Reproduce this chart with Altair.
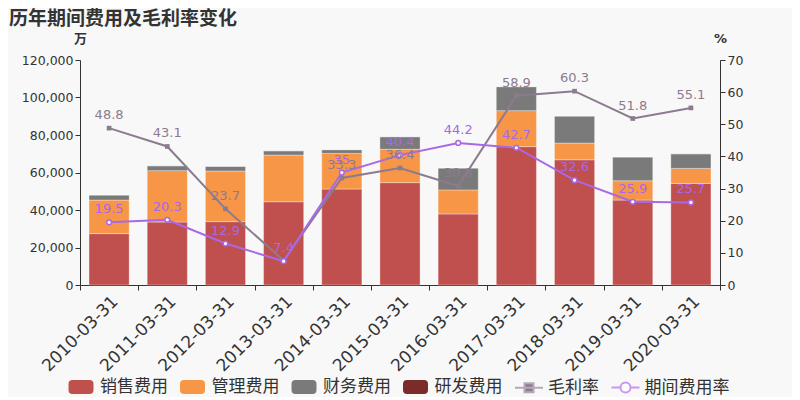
import altair as alt
import pandas as pd

years = ["2010-03-31", "2011-03-31", "2012-03-31", "2013-03-31", "2014-03-31",
         "2015-03-31", "2016-03-31", "2017-03-31", "2018-03-31", "2019-03-31", "2020-03-31"]
sales = [27400, 33600, 33800, 44400, 51200, 54600, 37900, 73800, 66800, 45300, 54200]
admin = [17900, 27400, 27000, 24900, 19000, 17800, 12800, 19200, 8900, 10300, 8000]
finance = [2700, 2600, 2500, 2300, 2000, 6700, 11700, 12800, 14400, 12700, 7800]
rnd = [0, 0, 0, 0, 0, 0, 0, 0, 0, 0, 0]
gross_margin = [48.8, 43.1, 23.7, 7.6, 33.3, 36.4, 30.8, 58.9, 60.3, 51.8, 55.1]
expense_rate = [19.5, 20.3, 12.9, 7.4, 35, 40.4, 44.2, 42.7, 32.6, 25.9, 25.7]

bar_names = ["销售费用", "管理费用", "财务费用", "研发费用"]
line_names = ["毛利率", "期间费用率"]
bar_colors = ["#c0504d", "#f79646", "#7a7a7a", "#7b2b2a"]
margin_color = "#8c7b8e"
rate_color = "#a968e6"

FONT = "DejaVu Sans, Noto Sans CJK SC"

rows = []
for i, y in enumerate(years):
    for k, (name, vals) in enumerate(zip(bar_names, [sales, admin, finance, rnd])):
        rows.append({"year": y, "series": name, "value": vals[i], "order": k})
bars_df = pd.DataFrame(rows)
lines_df = pd.DataFrame({"year": years, "margin": gross_margin, "rate": expense_rate})
legend_df = pd.DataFrame({"name": bar_names + line_names})

xscale = alt.Scale(paddingInner=0, paddingOuter=0)
rscale = alt.Scale(domain=[0, 70])

bars = alt.Chart(bars_df).mark_bar(
    width=alt.RelativeBandSize(0.69), stroke="#ffffff", strokeOpacity=0.35, strokeWidth=1
).encode(
    x=alt.X("year:N", sort=years, scale=xscale, title=None,
            axis=alt.Axis(labelAngle=-45, labelFontSize=17, labelColor="#333", labelFont=FONT,
                          ticks=True, tickBand="extent", tickColor="#333", tickSize=5,
                          domain=True, domainColor="#333", labelPadding=3)),
    y=alt.Y("value:Q", stack="zero", scale=alt.Scale(domain=[0, 120000]),
            axis=alt.Axis(values=[0, 20000, 40000, 60000, 80000, 100000, 120000], format=",.0f",
                          grid=False, title="万", titleAngle=0, titleX=0, titleY=-22,
                          titleAlign="center", titleBaseline="middle", titleFontSize=13,
                          titleFont=FONT, titleColor="#333", labelFontSize=12.5,
                          labelColor="#333", labelFont=FONT, domainColor="#333",
                          tickColor="#333")),
    color=alt.Color("series:N", scale=alt.Scale(domain=bar_names, range=bar_colors), legend=None),
    order=alt.Order("order:Q"),
)

leg_kw = dict(title=None, orient="none", direction="horizontal", legendX=-10, legendY=316)
all_names = bar_names + line_names
legend_layer = alt.Chart(legend_df).transform_filter("false").mark_point(opacity=1).encode(
    fill=alt.Fill("name:N", scale=alt.Scale(domain=all_names,
                                            range=bar_colors + [margin_color, "#ffffff"]),
                  legend=alt.Legend(symbolSize=400, symbolStrokeWidth=2, labelFontSize=17,
                                    labelFont=FONT, labelColor="#333", labelOffset=8,
                                    columnPadding=8.5, **leg_kw)),
    stroke=alt.Stroke("name:N", scale=alt.Scale(domain=all_names,
                                                range=bar_colors + ["#b4a9b6", "#c898f0"]),
                      legend=alt.Legend(**leg_kw)),
    shape=alt.Shape("name:N", scale=alt.Scale(
        domain=all_names,
        range=["M-0.85,-0.6H0.85A0.3,0.3 0 0 1 1.15,-0.3V0.3A0.3,0.3 0 0 1 0.85,0.6H-0.85A0.3,0.3 0 0 1 -1.15,0.3V-0.3A0.3,0.3 0 0 1 -0.85,-0.6Z"] * 4
        + ["M-1.4,0H1.4M-0.45,-0.45H0.45V0.45H-0.45Z",
           "M-1.4,0H-0.5M0.5,0H1.4M0.5,0A0.5,0.5 0 1 1 -0.5,0A0.5,0.5 0 1 1 0.5,0Z"]),
        legend=alt.Legend(**leg_kw)),
)

base = alt.Chart(lines_df)
x_none = alt.X("year:N", sort=years, scale=xscale, title=None, axis=None)

margin_line = base.mark_line(color=margin_color, strokeWidth=2).encode(
    x=x_none,
    y=alt.Y("margin:Q", scale=rscale,
            axis=alt.Axis(orient="right", values=[0, 10, 20, 30, 40, 50, 60, 70], grid=False,
                          title="%", titleAngle=0, titleX=0, titleY=-22, titleAlign="center",
                          titleBaseline="middle", titleFontSize=13, titleFont=FONT,
                          titleColor="#333", labelFontSize=12.5, labelColor="#333",
                          labelFont=FONT, domainColor="#333", tickColor="#333")))
margin_pts = base.mark_point(shape="square", filled=True, size=22, color=margin_color, opacity=1).encode(
    x=x_none, y=alt.Y("margin:Q", scale=rscale, axis=None))
margin_txt = base.transform_filter("datum.year != '2013-03-31'").mark_text(
    dy=-13, fontSize=13, font=FONT, color=margin_color).encode(
    x=x_none, y=alt.Y("margin:Q", scale=rscale, axis=None),
    text=alt.Text("margin:Q", format=".1~f"))
rate_line = base.mark_line(color=rate_color, strokeWidth=2).encode(
    x=x_none, y=alt.Y("rate:Q", scale=rscale, axis=None))
rate_pts = base.mark_point(shape="circle", filled=True, fill="#ffffff", stroke=rate_color,
                           strokeWidth=1.5, size=22, opacity=1).encode(
    x=x_none, y=alt.Y("rate:Q", scale=rscale, axis=None))
rate_txt = base.mark_text(dy=-13, fontSize=13, font=FONT, color=rate_color).encode(
    x=x_none, y=alt.Y("rate:Q", scale=rscale, axis=None),
    text=alt.Text("rate:Q", format=".1~f"))

chart = alt.layer(
    bars, legend_layer, margin_line, rate_line, margin_pts, rate_pts, margin_txt, rate_txt
).resolve_scale(y="independent").resolve_axis(x="independent", y="independent").properties(
    width=640, height=225,
    title=alt.Title("历年期间费用及毛利率变化", anchor="start", fontSize=19, fontWeight="bold",
                    color="#333", font=FONT, frame="group", dx=-71, offset=3),
    autosize=alt.AutoSizeParams(type="none"),
    padding={"left": 72, "top": 52, "right": 72, "bottom": 112},
    background="#f8f8f8",
).configure_view(stroke=None)

chart.save("out.html", embed_options={"renderer": "svg", "actions": False})
